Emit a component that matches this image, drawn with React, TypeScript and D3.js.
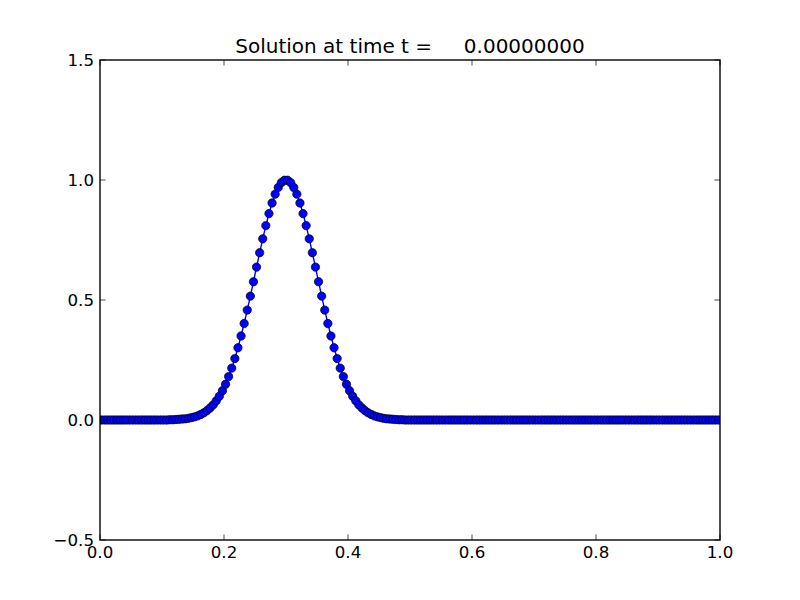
import React from "react";
import * as d3 from "d3";

const titleText = "Solution at time t =     0.00000000";
const xTicks = [0.0, 0.2, 0.4, 0.6, 0.8, 1.0];
const yTicks = [-0.5, 0.0, 0.5, 1.0, 1.5];
const xLower = 0;
const xUpper = 1;
const numCells = 200;

// q values at the 200 cell centres
const qValues = [
  0, 0, 0, 0, 0, 0, 0, 0, 0, 0,
  0, 0, 0, 0, 0, 0, 0, 0, 0, 0,
  0, 0,
  0.001, 0.001, 0.002, 0.003, 0.004, 0.005, 0.007, 0.010, 0.013, 0.017,
  0.023, 0.030, 0.039, 0.050, 0.063, 0.080, 0.099, 0.122, 0.149, 0.181,
  0.216, 0.256, 0.301, 0.350, 0.402, 0.458, 0.516, 0.576, 0.637, 0.697,
  0.755, 0.810, 0.860, 0.904, 0.941, 0.969, 0.989, 0.999,
  0.999, 0.989, 0.969, 0.941, 0.904, 0.860, 0.810, 0.755,
  0.697, 0.637, 0.576, 0.516, 0.458, 0.402, 0.350, 0.301, 0.256, 0.216,
  0.181, 0.149, 0.122, 0.099, 0.080, 0.063, 0.050, 0.039, 0.030, 0.023,
  0.017, 0.013, 0.010, 0.007, 0.005, 0.004, 0.003, 0.002, 0.001, 0.001,
  0, 0, 0, 0, 0, 0, 0, 0, 0, 0,
  0, 0, 0, 0, 0, 0, 0, 0, 0, 0,
  0, 0, 0, 0, 0, 0, 0, 0, 0, 0,
  0, 0, 0, 0, 0, 0, 0, 0, 0, 0,
  0, 0, 0, 0, 0, 0, 0, 0, 0, 0,
  0, 0, 0, 0, 0, 0, 0, 0, 0, 0,
  0, 0, 0, 0, 0, 0, 0, 0, 0, 0,
  0, 0, 0, 0, 0, 0, 0, 0, 0, 0,
  0, 0, 0, 0, 0, 0, 0, 0, 0, 0,
  0, 0, 0, 0, 0, 0, 0, 0, 0, 0,
  0, 0,
];

const W = 800;
const H = 600;
const L = 100;
const R = 720;
const T = 60;
const B = 540;
const FONT = "DejaVu Sans, sans-serif";

export default function App() {
  const dx = (xUpper - xLower) / numCells;
  const pts = qValues.map((q, i) => ({ x: xLower + dx * (i + 0.5), q }));
  const xs = d3.scaleLinear().domain([0, 1]).range([L, R]);
  const ys = d3.scaleLinear().domain([-0.5, 1.5]).range([B, T]);
  const line = d3
    .line<{ x: number; q: number }>()
    .x((d) => xs(d.x))
    .y((d) => ys(d.q));
  const tickLen = 5.6;
  const fmt = (v: number) => d3.format(".1f")(v).replace("-", "\u2212");

  return (
    <svg
      width={W}
      height={H}
      style={{ position: "absolute", left: 0, top: 0, background: "#fff" }}
      fontFamily={FONT}
    >
      <rect x={0} y={0} width={W} height={H} fill="#fff" />
      <defs>
        <clipPath id="axclip">
          <rect x={L} y={T} width={R - L} height={B - T} />
        </clipPath>
      </defs>
      <g clipPath="url(#axclip)">
        <path d={line(pts) || ""} fill="none" stroke="#0000ff" strokeWidth={1.39} />
        {pts.map((p, i) => (
          <circle
            key={i}
            cx={xs(p.x)}
            cy={ys(p.q)}
            r={4.17}
            fill="#0000ff"
            stroke="#000"
            strokeWidth={0.7}
          />
        ))}
      </g>
      <rect x={L} y={T} width={R - L} height={B - T} fill="none" stroke="#000" strokeWidth={1.39} />
      {xTicks.map((t) => (
        <g key={"x" + t}>
          <line x1={xs(t)} x2={xs(t)} y1={B} y2={B - tickLen} stroke="#000" strokeWidth={0.7} />
          <line x1={xs(t)} x2={xs(t)} y1={T} y2={T + tickLen} stroke="#000" strokeWidth={0.7} />
          <text x={xs(t)} y={B + 18} textAnchor="middle" fontSize={16.67} fill="#000">
            {fmt(t)}
          </text>
        </g>
      ))}
      {yTicks.map((t) => (
        <g key={"y" + t}>
          <line x1={L} x2={L + tickLen} y1={ys(t)} y2={ys(t)} stroke="#000" strokeWidth={0.7} />
          <line x1={R} x2={R - tickLen} y1={ys(t)} y2={ys(t)} stroke="#000" strokeWidth={0.7} />
          <text x={L - 6} y={ys(t) + 6} textAnchor="end" fontSize={16.67} fill="#000">
            {fmt(t)}
          </text>
        </g>
      ))}
      <text
        x={(L + R) / 2}
        y={53}
        textAnchor="middle"
        fontSize={20}
        fill="#000"
        style={{ whiteSpace: "pre" }}
        xmlSpace="preserve"
      >
        {titleText}
      </text>
    </svg>
  );
}
